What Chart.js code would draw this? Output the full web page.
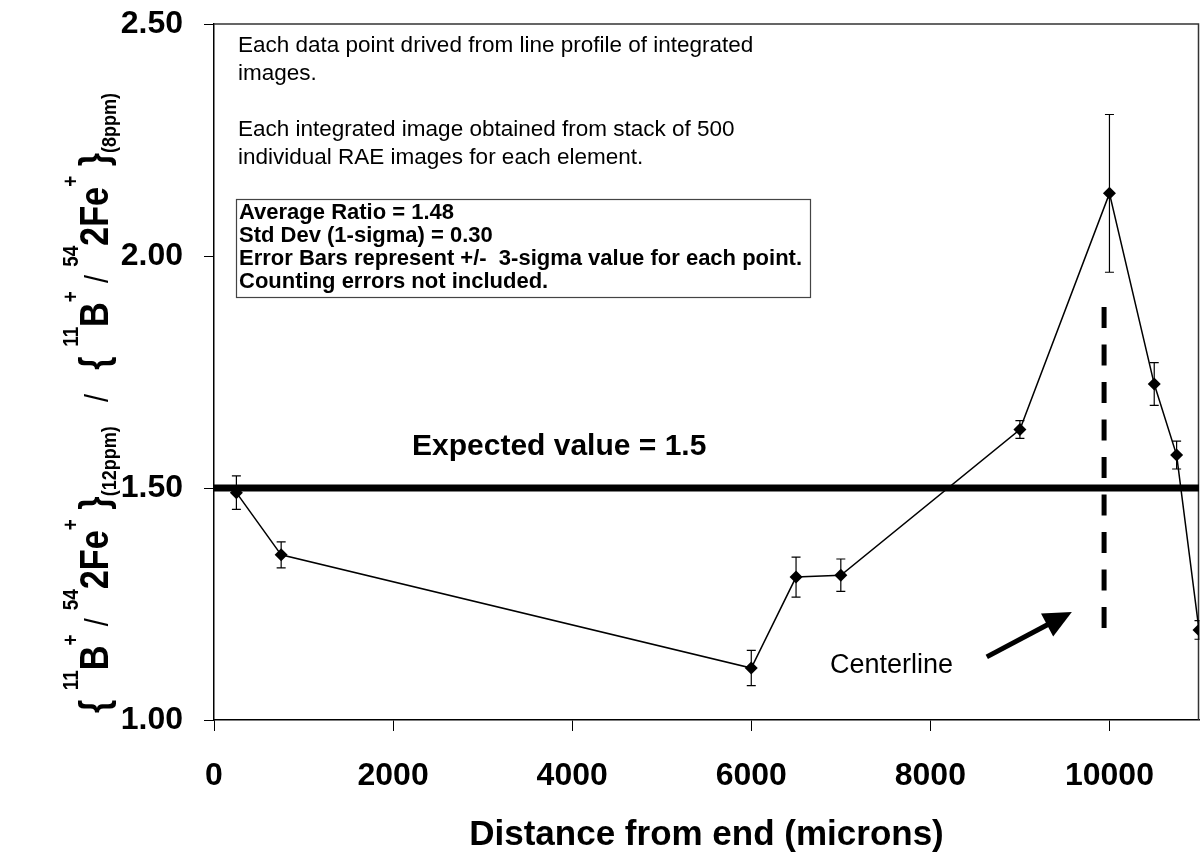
<!DOCTYPE html>
<html>
<head>
<meta charset="utf-8">
<script src="https://cdn.jsdelivr.net/npm/chart.js@4/dist/chart.umd.min.js"></script>
<style>
  html, body { margin: 0; padding: 0; background: #ffffff; }
  #wrap { width: 1201px; height: 859px; position: relative; }
</style>
</head>
<body>
<div id="wrap"><canvas id="chart" width="1201" height="859"></canvas></div>
<script>
// Measured ratio along the sample (distance in microns)
const distance   = [250, 750, 6000, 6500, 7000, 9000, 10000, 10500, 10750, 11000];
const ratio      = [1.49, 1.356, 1.112, 1.308, 1.312, 1.626, 2.135, 1.724, 1.571, 1.194];
const threeSigma = [0.036, 0.028, 0.038, 0.043, 0.035, 0.019, 0.17, 0.046, 0.03, 0.02];

// Reference lines
const expectedValue = 1.5;
const centerlineX = 9940;
const centerlineSpan = [1.89, 1.197];

// Axis ticks
const xTicks = [0, 2000, 4000, 6000, 8000, 10000];
const yTicks = [1.0, 1.5, 2.0, 2.5];

// Arrow pointing at the centerline (value coordinates)
const arrowFrom = { x: 8630, y: 1.136 };
const arrowTo   = { x: 9580, y: 1.233 };

const noteLines = [
  'Each data point drived from line profile of integrated',
  'images.',
  '',
  'Each integrated image obtained from stack of 500',
  'individual RAE images for each element.'
];
const statsLines = [
  'Average Ratio = 1.48',
  'Std Dev (1-sigma) = 0.30',
  'Error Bars represent +/-  3-sigma value for each point.',
  'Counting errors not included.'
];
const expectedLabel = 'Expected value = 1.5';
const centerlineLabel = 'Centerline';
const xTitle = 'Distance from end (microns)';
// y title pieces: [text, role]
const yTitleParts = [
  ['{ ', 'main'], ['11', 'sup'], ['B', 'main'], ['+', 'sup'], [' / ', 'slash'],
  ['54', 'sup'], ['2Fe', 'main'], ['+', 'sup'], [' }', 'main'], ['(12ppm)', 'sub'],
  ['   /   ', 'slash'],
  ['{ ', 'main'], ['11', 'sup'], ['B', 'main'], ['+', 'sup'], [' / ', 'slash'],
  ['54', 'sup'], ['2Fe', 'main'], ['+', 'sup'], [' }', 'main'], ['(8ppm)', 'sub']
];

const FONT = '"Liberation Sans", Arial, Helvetica, sans-serif';

const titleStyles = {
  main:  { font: 'bold 40px ' + FONT, dy: 0 },
  sup:   { font: 'bold 22px ' + FONT, dy: -30 },
  sub:   { font: 'bold 21px ' + FONT, dy: 8 },
  slash: { font: '34px ' + FONT, dy: 0 }
};

function drawErrorBars(chart) {
  const { ctx, chartArea: a, scales: { x, y } } = chart;
  ctx.save();
  ctx.beginPath();
  ctx.rect(a.left, a.top - 12, a.right - a.left + 0.5, a.bottom - a.top + 24);
  ctx.clip();
  ctx.strokeStyle = '#000';
  ctx.lineWidth = 1.2;
  distance.forEach((d, i) => {
    const px = x.getPixelForValue(d);
    const t = y.getPixelForValue(ratio[i] + threeSigma[i]);
    const b = y.getPixelForValue(ratio[i] - threeSigma[i]);
    ctx.beginPath();
    ctx.moveTo(px, t); ctx.lineTo(px, b);
    ctx.moveTo(px - 4.5, t); ctx.lineTo(px + 4.5, t);
    ctx.moveTo(px - 4.5, b); ctx.lineTo(px + 4.5, b);
    ctx.stroke();
  });
  ctx.restore();
}

const annotations = {
  id: 'annotations',
  beforeDatasetsDraw(chart) {
    const { ctx, chartArea: a } = chart;
    // plot frame, top and right edges
    ctx.save();
    ctx.strokeStyle = '#333';
    ctx.lineWidth = 1.5;
    ctx.beginPath();
    ctx.moveTo(a.left, a.top);
    ctx.lineTo(a.right - 0.5, a.top);
    ctx.lineTo(a.right - 0.5, a.bottom);
    ctx.stroke();
    ctx.restore();
  },
  afterDatasetsDraw(chart) {
    drawErrorBars(chart);
  },
  afterDraw(chart) {
    const { ctx, scales: { x, y } } = chart;
    ctx.save();
    ctx.fillStyle = '#000';
    ctx.textAlign = 'left';
    ctx.textBaseline = 'alphabetic';

    // notes block
    ctx.font = '22.5px ' + FONT;
    noteLines.forEach((s, i) => { if (s) ctx.fillText(s, 238, 52 + i * 28); });

    // statistics box
    ctx.strokeStyle = '#444';
    ctx.lineWidth = 1.2;
    ctx.strokeRect(236.5, 199.5, 574, 98);
    ctx.font = 'bold 22px ' + FONT;
    statsLines.forEach((s, i) => ctx.fillText(s, 239, 219 + i * 23));

    // expected value label
    ctx.font = 'bold 30px ' + FONT;
    ctx.fillText(expectedLabel, 412, 455);

    // centerline label
    ctx.font = '27px ' + FONT;
    ctx.fillText(centerlineLabel, 830, 673);

    // arrow
    const x0 = x.getPixelForValue(arrowFrom.x), y0 = y.getPixelForValue(arrowFrom.y);
    const x1 = x.getPixelForValue(arrowTo.x),   y1 = y.getPixelForValue(arrowTo.y);
    const ang = Math.atan2(y1 - y0, x1 - x0);
    const headLen = 28, headHalf = 13;
    const bx = x1 - headLen * Math.cos(ang), by = y1 - headLen * Math.sin(ang);
    ctx.strokeStyle = '#000';
    ctx.lineWidth = 5;
    ctx.lineCap = 'butt';
    ctx.beginPath();
    ctx.moveTo(x0, y0);
    ctx.lineTo(bx + 2 * Math.cos(ang), by + 2 * Math.sin(ang));
    ctx.stroke();
    ctx.beginPath();
    ctx.moveTo(x1, y1);
    ctx.lineTo(bx + headHalf * Math.sin(ang), by - headHalf * Math.cos(ang));
    ctx.lineTo(bx - headHalf * Math.sin(ang), by + headHalf * Math.cos(ang));
    ctx.closePath();
    ctx.fill();

    // x axis title, centred under the plot area
    const a = chart.chartArea;
    ctx.font = 'bold 35px ' + FONT;
    ctx.textAlign = 'center';
    ctx.fillText(xTitle, (a.left + a.right) / 2, 845);

    // y axis title, rotated, fitted to its span
    ctx.textAlign = 'left';
    let total = 0;
    yTitleParts.forEach(([t, r]) => { ctx.font = titleStyles[r].font; total += ctx.measureText(t).width; });
    const span = 620, cx = 108, cy = 403;
    const k = span / total;
    ctx.translate(cx, cy);
    ctx.rotate(-Math.PI / 2);
    ctx.scale(k, 1);
    let pos = -total / 2;
    yTitleParts.forEach(([t, r]) => {
      const st = titleStyles[r];
      ctx.font = st.font;
      ctx.fillText(t, pos, st.dy);
      pos += ctx.measureText(t).width;
    });
    ctx.restore();
  }
};

new Chart(document.getElementById('chart'), {
  type: 'line',
  data: {
    datasets: [
      {
        label: 'ratio',
        data: distance.map((d, i) => ({ x: d, y: ratio[i] })),
        borderColor: '#000',
        backgroundColor: '#000',
        borderWidth: 1.5,
        pointStyle: 'rectRot',
        pointRadius: 6.5,
        pointBorderWidth: 0,
        pointBackgroundColor: '#000',
        tension: 0,
        fill: false
      },
      {
        label: 'expected',
        data: [{ x: 0, y: expectedValue }, { x: 11000, y: expectedValue }],
        borderColor: '#000',
        borderWidth: 7,
        pointRadius: 0,
        borderCapStyle: 'butt',
        fill: false
      },
      {
        label: 'centerline',
        data: [{ x: centerlineX, y: centerlineSpan[0] }, { x: centerlineX, y: centerlineSpan[1] }],
        borderColor: '#000',
        borderWidth: 5,
        borderDash: [21, 16.5],
        borderCapStyle: 'butt',
        pointRadius: 0,
        fill: false
      }
    ]
  },
  options: {
    responsive: false,
    devicePixelRatio: 1,
    animation: false,
    events: [],
    layout: { autoPadding: false, padding: { top: 24, right: 2, left: 0, bottom: 0 } },
    plugins: { legend: { display: false }, tooltip: { enabled: false } },
    scales: {
      x: {
        type: 'linear',
        min: 0,
        max: 11000,
        afterBuildTicks: (s) => { s.ticks = xTicks.map(v => ({ value: v })); },
        afterFit: (s) => { s.height = 139; s.paddingLeft = 0; s.paddingRight = 0; },
        grid: { drawOnChartArea: false, drawTicks: true, tickLength: 11, color: '#000', lineWidth: 1 },
        border: { display: true, color: '#000', width: 1.5 },
        ticks: {
          color: '#000',
          font: { family: FONT, size: 32, weight: 'bold' },
          padding: 26,
          maxRotation: 0,
          autoSkip: false,
          callback: (v) => String(v)
        }
      },
      y: {
        type: 'linear',
        min: 1,
        max: 2.5,
        afterBuildTicks: (s) => { s.ticks = yTicks.map(v => ({ value: v })); },
        afterFit: (s) => { s.width = 214; s.paddingTop = 0; s.paddingBottom = 0; },
        grid: { drawOnChartArea: false, drawTicks: true, tickLength: 10, color: '#000', lineWidth: 1 },
        border: { display: true, color: '#000', width: 1.5 },
        ticks: {
          color: '#000',
          font: { family: FONT, size: 32, weight: 'bold' },
          padding: 21,
          autoSkip: false,
          callback: (v) => Number(v).toFixed(2)
        }
      }
    }
  },
  plugins: [annotations]
});
</script>
</body>
</html>
